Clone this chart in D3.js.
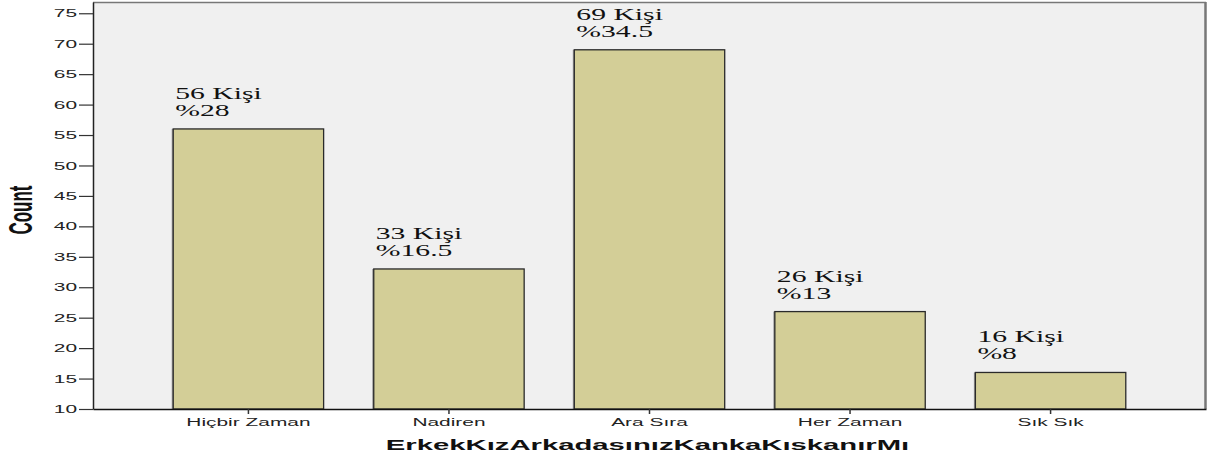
<!DOCTYPE html>
<html><head><meta charset="utf-8">
<script src="https://cdn.jsdelivr.net/npm/d3@7/dist/d3.min.js"></script>
<style>body{margin:0;background:#fff}svg{display:block}</style>
</head><body>
<svg id="c" width="1210" height="459"></svg>
<script>
const categories = ["Hiçbir Zaman", "Nadiren", "Ara Sıra", "Her Zaman", "Sık Sık"];
const counts = [56, 33, 69, 26, 16];
const percents = ["28", "16.5", "34.5", "13", "8"];
const yTicks = [10, 15, 20, 25, 30, 35, 40, 45, 50, 55, 60, 65, 70, 75];
const xTitle = "ErkekKızArkadasınızKankaKıskanırMı";
const yTitle = "Count";

const W = 1210, H = 459;
const m = {left: 93, right: 4, top: 2, bottom: 50};
const sxSans = 1.9, sxSerif = 1.8, sxTitle = 1.95;
const svg = d3.select("#c");
const x = d3.scaleBand().domain(categories).range([m.left, W - m.right]).paddingInner(0.25).paddingOuter(0.4);
const y = d3.scaleLinear().domain([10, 76.85]).range([H - m.bottom, m.top]);

// plot background
svg.append("rect").attr("x", m.left).attr("y", m.top).attr("width", W - m.right - m.left).attr("height", H - m.bottom - m.top).attr("fill", "#f0f0f0");
svg.append("line").attr("x1", m.left).attr("x2", W - m.right).attr("y1", m.top + 0.5).attr("y2", m.top + 0.5).attr("stroke", "#777").attr("stroke-width", 1.5);
svg.append("line").attr("x1", W - m.right - 0.5).attr("x2", W - m.right - 0.5).attr("y1", m.top).attr("y2", H - m.bottom).attr("stroke", "#777").attr("stroke-width", 2.5);

// bars
const g = svg.append("g");
g.selectAll("rect.sh").data(counts).join("rect").attr("class", "sh")
  .attr("x", (d, i) => x(categories[i]) - 1.5).attr("y", d => y(d))
  .attr("width", x.bandwidth()).attr("height", d => y(10) - y(d))
  .attr("fill", "#999");
g.selectAll("rect.bar").data(counts).join("rect").attr("class", "bar")
  .attr("x", (d, i) => x(categories[i])).attr("y", d => y(d))
  .attr("width", x.bandwidth()).attr("height", d => y(10) - y(d))
  .attr("fill", "#d3ce97").attr("stroke", "#2a2a2a").attr("stroke-width", 1.3);

// data labels
const lab = svg.append("g").attr("font-family", "'Liberation Serif','Times New Roman',serif").attr("font-size", 16.5).attr("fill", "#111");
counts.forEach((d, i) => {
  const lx = x(categories[i]) + 2;
  lab.append("text").attr("transform", `translate(${lx},${y(d) - 30}) scale(${sxSerif},1)`).text(d + " Kişi");
  lab.append("text").attr("transform", `translate(${lx},${y(d) - 13}) scale(${sxSerif},1)`).text("%" + percents[i]);
});

// y axis
const ya = svg.append("g").attr("transform", `translate(${m.left},0)`)
  .call(d3.axisLeft(y).tickValues(yTicks).tickSize(14).tickSizeOuter(0).tickPadding(2));
ya.select(".domain").attr("stroke", "#222").attr("stroke-width", 1.5);
ya.selectAll(".tick line").attr("stroke", "#333").attr("stroke-width", 1.2);
ya.selectAll(".tick text").attr("font-family", "'Liberation Sans',Arial,sans-serif").attr("font-size", 11).attr("fill", "#222")
  .attr("x", null).attr("dy", null).attr("dominant-baseline", "central")
  .attr("transform", `translate(-16,0) scale(${sxSans},1)`);
// x axis
const xa = svg.append("g").attr("transform", `translate(0,${H - m.bottom})`)
  .call(d3.axisBottom(x).tickSize(5).tickSizeOuter(0).tickPadding(0));
xa.select(".domain").attr("stroke", "#111").attr("stroke-width", 1.5);
xa.selectAll(".tick line").attr("stroke", "#333").attr("stroke-width", 1.5);
xa.selectAll(".tick text").attr("font-family", "'Liberation Sans',Arial,sans-serif").attr("font-size", 11).attr("fill", "#222")
  .attr("y", null).attr("dy", null)
  .attr("transform", `translate(0,17) scale(${sxSans},1)`);

// titles
svg.append("text").attr("transform", `translate(${(m.left + W - m.right) / 2 - 2},450) scale(${sxTitle},1)`)
  .attr("text-anchor", "middle").attr("font-family", "'Liberation Sans',Arial,sans-serif").attr("font-weight", "bold").attr("font-size", 15).attr("fill", "#111").text(xTitle);
svg.append("text").attr("transform", `translate(32,210) scale(${sxTitle},1) rotate(-90)`)
  .attr("text-anchor", "middle").attr("font-family", "'Liberation Sans',Arial,sans-serif").attr("font-weight", "bold").attr("font-size", 17).attr("fill", "#111").text(yTitle);
</script>
</body></html>
